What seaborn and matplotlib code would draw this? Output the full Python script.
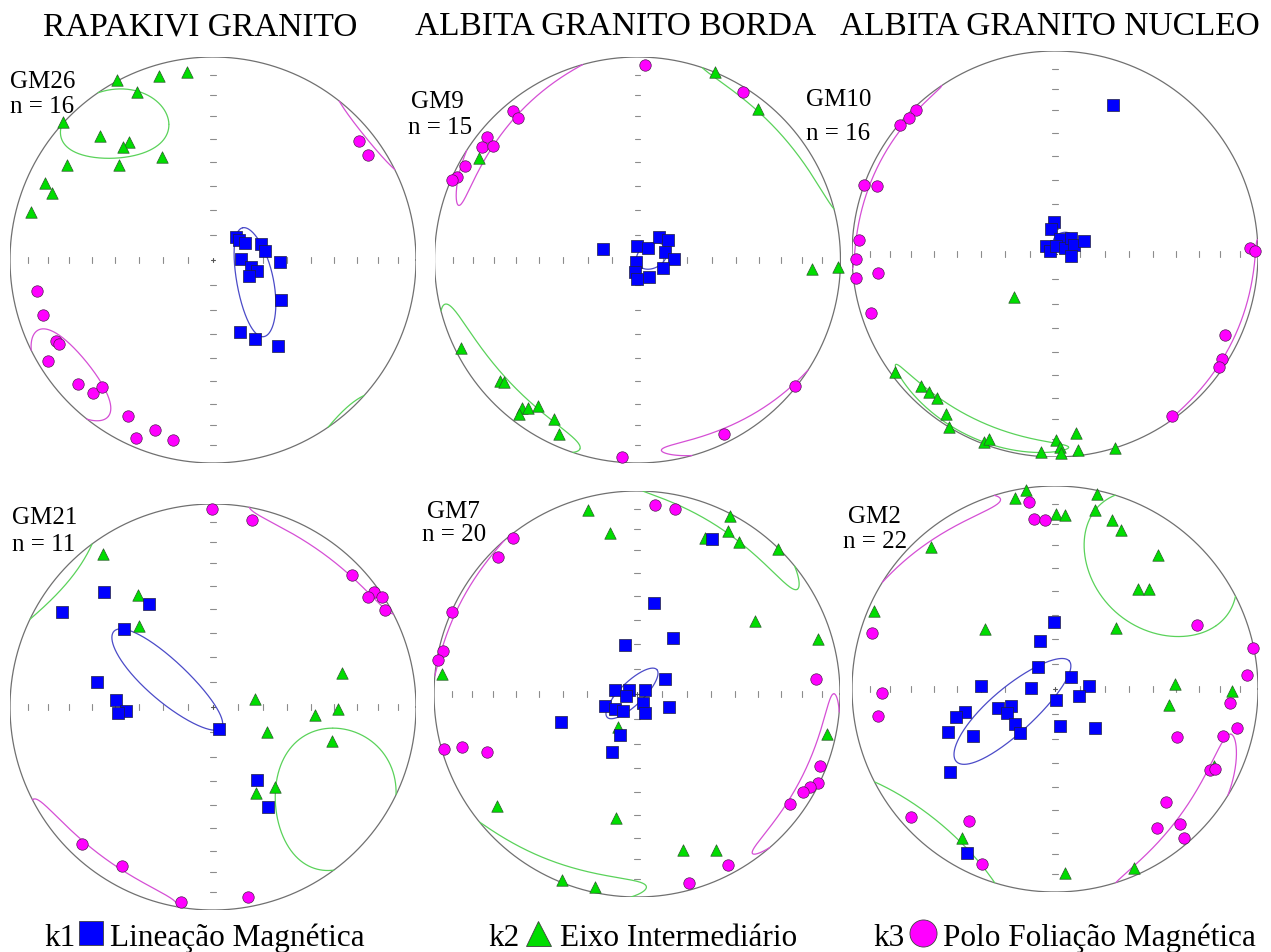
import numpy as np
import matplotlib
matplotlib.use("Agg")
import matplotlib.pyplot as plt
import seaborn as sns

# Equal-area lower hemisphere projections (unit circle = primitive)
# k1 = blue squares, k2 = green triangles, k3 = magenta circles
# ellipses: (cx, cy, semi-major, semi-minor, angle deg) in projected units

gm26_k1 = [(0.111, 0.115), (0.129, 0.098), (0.160, 0.082), (0.236, 0.079), (0.255, 0.046),
           (0.329, -0.008), (0.137, 0.005), (0.185, -0.036), (0.219, -0.052), (0.178, -0.080),
           (0.337, -0.196), (0.133, -0.357), (0.208, -0.390), (0.321, -0.424)]
gm26_k2 = [(-0.473, 0.885), (-0.265, 0.905), (-0.126, 0.925), (-0.372, 0.827), (-0.740, 0.679),
           (-0.555, 0.610), (-0.416, 0.581), (-0.444, 0.558), (-0.249, 0.509), (-0.718, 0.466),
           (-0.462, 0.466), (-0.828, 0.378), (-0.792, 0.329), (-0.899, 0.234)]
gm26_k3 = [(-0.866, -0.151), (-0.838, -0.273), (-0.771, -0.399), (-0.759, -0.412), (-0.812, -0.499),
           (-0.666, -0.609), (-0.591, -0.653), (-0.547, -0.628), (-0.419, -0.768), (-0.285, -0.838),
           (-0.380, -0.879), (-0.198, -0.887), (0.718, 0.586), (0.766, 0.517)]
gm26_ell = [(0.209, -0.110, 0.275, 0.090, 101), (-0.486, 0.676, 0.27, 0.17, 6),
            (-0.717, -0.581, 0.277, 0.117, -51)]

gm9_k1 = [(-0.169, 0.054), (-0.002, 0.071), (0.054, 0.061), (0.105, 0.112), (0.148, 0.099),
          (0.137, 0.038), (0.179, 0.005), (-0.005, -0.012), (0.127, -0.038), (-0.012, -0.061),
          (0.059, -0.082), (-0.002, -0.094)]
gm9_k2 = [(0.383, 0.926), (0.594, 0.742), (-0.781, 0.503), (0.860, -0.044), (0.988, -0.036),
          (-0.870, -0.434), (-0.678, -0.595), (-0.656, -0.599), (-0.571, -0.727), (-0.538, -0.730),
          (-0.488, -0.719), (-0.582, -0.760), (-0.411, -0.785), (-0.385, -0.855)]
gm9_k3 = [(0.038, 0.959), (0.518, 0.827), (-0.615, 0.732), (-0.587, 0.699), (-0.740, 0.604),
          (-0.768, 0.556), (-0.711, 0.564), (-0.849, 0.464), (-0.888, 0.411), (-0.916, 0.393),
          (0.778, -0.620), (0.424, -0.855), (-0.076, -0.969)]
gm9_ell = [(0.07, 0.02, 0.08, 0.06, 30), (-0.708, -0.660, 0.508, 0.0935, -47),
           (-0.634, 0.756, 0.568, 0.0573, 47)]

gm10_k1 = [(0.284, 0.736), (-0.003, 0.160), (-0.018, 0.121), (0.023, 0.074), (-0.046, 0.038),
           (-0.023, 0.017), (0.007, 0.041), (0.048, 0.028), (0.081, 0.079), (0.094, 0.045),
           (0.144, 0.064), (0.081, -0.012)]
gm10_k2 = [(-0.200, -0.212), (-0.787, -0.579), (-0.660, -0.648), (-0.621, -0.681), (-0.580, -0.707),
           (-0.539, -0.788), (-0.522, -0.851), (-0.349, -0.926), (-0.327, -0.909), (-0.071, -0.975),
           (0.007, -0.917), (0.023, -0.950), (0.028, -0.979), (0.102, -0.881), (0.114, -0.964),
           (0.296, -0.954)]
gm10_k3 = [(-0.683, 0.711), (-0.721, 0.669), (-0.762, 0.636), (-0.939, 0.342), (-0.878, 0.336),
           (-0.965, 0.071), (-0.980, -0.025), (-0.980, -0.116), (-0.874, -0.096), (-0.907, -0.289),
           (0.960, 0.030), (0.985, 0.013), (0.838, -0.397), (0.825, -0.517), (0.808, -0.559),
           (0.574, -0.797)]
gm10_ell = [(0.04, 0.07, 0.05, 0.035, 20), (-0.410, -0.855, 0.491, 0.0436, -25.6),
            (-0.899, 0.438, 0.524, 0.026, 64)]

gm21_k1 = [(-0.538, 0.566), (-0.746, 0.470), (-0.316, 0.505), (-0.439, 0.382), (-0.569, 0.123),
           (-0.480, 0.036), (-0.430, -0.021), (-0.467, -0.030), (0.028, -0.107), (0.218, -0.361),
           (0.270, -0.492)]
gm21_k2 = [(-0.544, 0.754), (-0.369, 0.552), (-0.364, 0.397), (0.636, 0.169), (0.205, 0.038),
           (0.615, -0.008), (0.502, -0.041), (0.266, -0.123), (0.584, -0.169), (0.305, -0.393),
           (0.213, -0.426)]
gm21_k3 = [(-0.003, 0.975), (0.193, 0.923), (0.687, 0.652), (0.795, 0.566), (0.762, 0.544),
           (0.831, 0.541), (0.849, 0.480), (-0.643, -0.677), (-0.448, -0.784), (-0.156, -0.959),
           (0.172, -0.934)]
gm21_ell = [(-0.234, 0.136, 0.36, 0.10, -42), (0.615, -0.459, 0.355, 0.30, 85),
            (0.599, 0.809, 0.462, 0.0733, -36.5)]

gm7_k1 = [(0.369, 0.766), (0.084, 0.448), (0.177, 0.274), (-0.057, 0.243), (0.139, 0.074),
          (-0.107, 0.021), (-0.038, 0.020), (0.038, 0.021), (-0.052, -0.008), (-0.159, -0.061),
          (-0.110, -0.074), (-0.069, -0.085), (0.028, -0.046), (0.038, -0.095), (0.156, -0.062),
          (-0.372, -0.139), (-0.085, -0.202), (-0.123, -0.284)]
gm7_k2 = [(-0.243, 0.905), (-0.134, 0.795), (0.456, 0.877), (0.448, 0.803), (0.333, 0.770),
          (0.500, 0.751), (0.697, 0.713), (0.582, 0.361), (0.890, 0.270), (-0.962, 0.098),
          (0.938, -0.197), (-0.095, -0.164), (-0.689, -0.552), (-0.102, -0.611), (0.226, -0.767),
          (0.390, -0.767), (-0.369, -0.918), (-0.208, -0.951)]
gm7_k3 = [(0.090, 0.931), (0.185, 0.910), (-0.610, 0.767), (-0.684, 0.677), (-0.913, 0.402),
          (-0.954, 0.210), (-0.979, 0.167), (0.882, 0.072), (-0.951, -0.272), (-0.862, -0.259),
          (-0.738, -0.284), (0.900, -0.356), (0.890, -0.438), (0.852, -0.459), (0.820, -0.484),
          (0.754, -0.544), (0.448, -0.844), (0.257, -0.930)]
gm7_ell = [(-0.025, 0.003, 0.17, 0.057, 44), (0.452, 0.887, 0.519, 0.0785, -33),
           (0.861, -0.439, 0.457, 0.0557, 63)]

gm2_k1 = [(-0.005, 0.329), (-0.072, 0.234), (-0.084, 0.107), (0.081, 0.061), (0.166, 0.013),
          (0.117, -0.033), (-0.118, 0.003), (0.003, -0.053), (-0.365, 0.016), (-0.283, -0.094),
          (-0.217, -0.082), (-0.237, -0.120), (-0.199, -0.173), (-0.171, -0.217), (-0.442, -0.115),
          (-0.487, -0.137), (-0.525, -0.214), (-0.405, -0.230), (0.026, -0.184), (0.196, -0.194),
          (-0.516, -0.408), (-0.434, -0.806)]
gm2_k2 = [(-0.199, 0.942), (-0.145, 0.982), (0.207, 0.962), (0.199, 0.880), (0.007, 0.863),
          (0.048, 0.859), (0.281, 0.831), (0.327, 0.781), (0.508, 0.658), (0.410, 0.493),
          (0.462, 0.493), (-0.612, 0.699), (-0.891, 0.382), (-0.347, 0.296), (0.301, 0.301),
          (0.590, 0.025), (0.873, -0.012), (0.561, -0.077), (0.783, -0.378), (-0.459, -0.732),
          (0.048, -0.905), (0.387, -0.883)]
gm2_k3 = [(-0.127, 0.921), (-0.105, 0.839), (-0.048, 0.831), (-0.903, 0.275), (-0.854, -0.018),
          (-0.870, -0.132), (0.701, 0.316), (0.975, 0.202), (0.947, 0.069), (0.860, -0.069),
          (0.895, -0.194), (0.599, -0.234), (0.829, -0.230), (0.766, -0.400), (0.788, -0.395),
          (0.548, -0.556), (0.503, -0.686), (0.618, -0.663), (0.635, -0.735), (-0.711, -0.633),
          (-0.423, -0.650), (-0.360, -0.860)]
gm2_ell = [(-0.219, -0.110, 0.377, 0.11, 41.6), (0.534, 0.636, 0.417, 0.320, -40),
           (0.683, -0.671, 0.50, 0.0794, 53.5)]

titles = ["RAPAKIVI GRANITO", "ALBITA GRANITO BORDA", "ALBITA GRANITO NUCLEO"]
names = ["GM26", "GM9", "GM10", "GM21", "GM7", "GM2"]
counts = [16, 15, 16, 11, 20, 22]
legend_keys = ["k1", "k2", "k3"]
legend_labels = ["Lineação Magnética", "Eixo Intermediário", "Polo Foliação Magnética"]

# layout (pixels)
W, H = 1271, 953
R = 203
centers = [(213, 261), (637.5, 261), (1055, 255), (213, 708), (637, 695), (1055, 690)]
name_pos = [(10, 88), (411, 108), (806, 106), (12, 524), (427, 518), (848, 523)]
n_pos = [(10, 113), (408, 134), (806, 140), (12, 551), (422, 541), (843, 548)]
title_x = [200, 616, 1050]

BLUE, GREEN, MAGENTA = "#0000ff", "#00dd00", "#ff00ff"
ELL_COL = ["#4b4bc8", "#5ad25a", "#d54fd5"]
S2 = np.sqrt(2)


def to_vec(X, Y):
    r = np.hypot(X, Y)
    th = 2 * np.arcsin(np.minimum(r / S2, 1.0))
    az = np.arctan2(X, Y)
    return np.array([np.sin(th) * np.sin(az), np.sin(th) * np.cos(az), np.cos(th)])


def to_xy(v):
    v = v / np.linalg.norm(v, axis=0)
    lower = v[2] >= 0
    v = np.where(lower, v, -v)
    th = np.arccos(np.clip(v[2], -1, 1))
    r = S2 * np.sin(th / 2)
    h = np.hypot(v[0], v[1])
    h = np.where(h == 0, 1, h)
    return r * v[0] / h, r * v[1] / h, lower


def draw_cone(ax, cx, cy, a, b, ang, color, n=900):
    # confidence cone built on the sphere, so parts above the horizon wrap round
    d = to_vec(cx, cy)
    e = 1e-4
    jx = (to_vec(cx + e, cy) - to_vec(cx - e, cy)) / (2 * e)
    jy = (to_vec(cx, cy + e) - to_vec(cx, cy - e)) / (2 * e)
    t = np.radians(ang)
    p = a * (np.cos(t) * jx + np.sin(t) * jy)
    q = b * (-np.sin(t) * jx + np.cos(t) * jy)
    s = np.linspace(0, 2 * np.pi, n)
    off = np.outer(p, np.cos(s)) + np.outer(q, np.sin(s))
    rho = np.linalg.norm(off, axis=0)
    v = np.cos(rho) * d[:, None] + np.sin(rho) * off / rho
    X, Y, low = to_xy(v)
    cuts = np.where(np.diff(low.astype(int)) != 0)[0] + 1
    for seg in np.split(np.arange(n), cuts):
        if len(seg) > 1:
            ax.plot(X[seg], Y[seg], color=color, lw=0.9, zorder=2)


sns.set_style("white")
plt.rcParams["font.family"] = ["Liberation Serif", "DejaVu Serif"]
plt.rcParams["text.color"] = "black"

fig = plt.figure(figsize=(W / 100, H / 100), dpi=100)
fig.patch.set_facecolor("white")

# overlay for the legend
lax = fig.add_axes([0, 0, 1, 1])
lax.set_xlim(0, W)
lax.set_ylim(H, 0)
lax.axis("off")

panels = [
    (gm26_k1, gm26_k2, gm26_k3, gm26_ell),
    (gm9_k1, gm9_k2, gm9_k3, gm9_ell),
    (gm10_k1, gm10_k2, gm10_k3, gm10_ell),
    (gm21_k1, gm21_k2, gm21_k3, gm21_ell),
    (gm7_k1, gm7_k2, gm7_k3, gm7_ell),
    (gm2_k1, gm2_k2, gm2_k3, gm2_ell),
]

tick_r = S2 * np.sin(np.radians(np.arange(5, 45, 5)))
TC = "#8c8c8c"
L = 0.014

for i, (k1, k2, k3, ells) in enumerate(panels):
    cx, cy = centers[i]
    ax = fig.add_axes([(cx - R) / W, 1 - (cy + R) / H, 2 * R / W, 2 * R / H])
    ax.set_xlim(-1, 1)
    ax.set_ylim(-1, 1)
    ax.axis("off")

    th = np.linspace(0, 2 * np.pi, 400)
    ax.plot(np.cos(th), np.sin(th), color="#707070", lw=0.9, zorder=1)
    for tr in tick_r:
        for sg in (-1, 1):
            ax.plot([sg * tr, sg * tr], [-L, L], color=TC, lw=0.8, zorder=1)
            ax.plot([-L, L], [sg * tr, sg * tr], color=TC, lw=0.8, zorder=1)
    ax.plot([-0.012, 0.012], [0, 0], color="#555555", lw=0.8, zorder=1)
    ax.plot([0, 0], [-0.012, 0.012], color="#555555", lw=0.8, zorder=1)

    for (ex, ey, ea, eb, eang), col in zip(ells, ELL_COL):
        draw_cone(ax, ex, ey, ea, eb, eang, col)

    for pts, mk, col, ec in [(k2, "^", GREEN, "#2a5a2a"), (k1, "s", BLUE, "#202040"),
                             (k3, "o", MAGENTA, "#502050")]:
        arr = np.array(pts)
        sns.scatterplot(x=arr[:, 0], y=arr[:, 1], ax=ax, marker=mk, s=68, color=col,
                        edgecolor=ec, linewidth=0.5, legend=False, zorder=3, clip_on=False)

    fig.text(name_pos[i][0] / W, 1 - name_pos[i][1] / H, names[i], fontsize=18,
             ha="left", va="baseline")
    fig.text(n_pos[i][0] / W, 1 - n_pos[i][1] / H, f"n = {counts[i]}", fontsize=18,
             ha="left", va="baseline")

for tx, tt in zip(title_x, titles):
    fig.text(tx / W, 1 - 35 / H, tt, fontsize=24, ha="center", va="baseline")

# legend row
key_x = [44, 488, 873]
glyph_x = [91, 538, 923]
label_x = [110, 560, 943]
glyphs = [("s", BLUE, 17.5), ("^", GREEN, 18), ("o", MAGENTA, 19.5)]
for kx, gx, lx, key, lab, (mk, col, ms) in zip(key_x, glyph_x, label_x, legend_keys,
                                                 legend_labels, glyphs):
    fig.text(kx / W, 1 - 946 / H, key, fontsize=22.5, ha="left", va="baseline")
    lax.plot([gx], [934], marker=mk, ms=ms, color=col, mec="#404040", mew=0.6, ls="none")
    fig.text(lx / W, 1 - 946 / H, lab, fontsize=22.5, ha="left", va="baseline")

fig.savefig("out.png", dpi=100, facecolor="white")
